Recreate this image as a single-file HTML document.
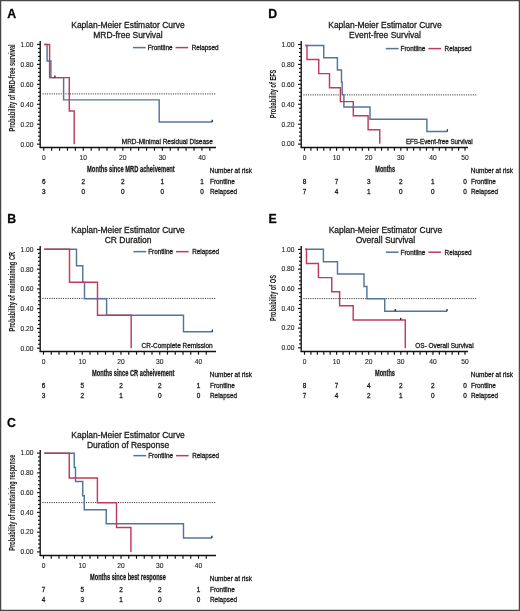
<!DOCTYPE html>
<html><head><meta charset="utf-8"><title>Kaplan-Meier curves</title>
<style>
html,body{margin:0;padding:0;background:#fff;}
body{width:520px;height:611px;overflow:hidden;}
svg{display:block;will-change:transform;}
text{font-family:"Liberation Sans", sans-serif;stroke:#1a1a1a;stroke-width:0.28px;}
text.lt{stroke-width:0.12px;fill:#262626;stroke:#262626;}
</style></head><body>
<svg width="520" height="611" viewBox="0 0 520 611" font-family='"Liberation Sans", sans-serif' fill="#1a1a1a">
<rect x="0" y="0" width="520" height="611" fill="#fff"/>
<text x="7.30" y="17.80" font-size="12.3" text-anchor="start" font-weight="bold" fill="#000">A</text>
<text x="128.00" y="28.10" font-size="8.5" text-anchor="middle" textLength="113.50" lengthAdjust="spacingAndGlyphs">Kaplan-Meier Estimator Curve</text>
<text x="128.00" y="38.10" font-size="8.5" text-anchor="middle">MRD-free Survival</text>
<line x1="132.90" y1="47.6" x2="145.70" y2="47.6" stroke="#52769a" stroke-width="1.5"/>
<text x="147.70" y="49.90" font-size="6.35" text-anchor="start" textLength="24.80" lengthAdjust="spacingAndGlyphs">Frontline</text>
<line x1="175.50" y1="47.6" x2="188.20" y2="47.6" stroke="#c03c5e" stroke-width="1.5"/>
<text x="191.70" y="49.90" font-size="6.35" text-anchor="start" textLength="26.90" lengthAdjust="spacingAndGlyphs">Relapsed</text>
<line x1="40.2" y1="41" x2="40.2" y2="148.0" stroke="#111" stroke-width="1.35"/>
<line x1="37.00" y1="144.15" x2="40.2" y2="144.15" stroke="#111" stroke-width="1.15"/>
<text x="33.50" y="146.50" font-size="6.7" text-anchor="end" class="lt">0.00</text>
<line x1="38.00" y1="140.16" x2="40.2" y2="140.16" stroke="#111" stroke-width="1.15"/>
<line x1="38.00" y1="136.17" x2="40.2" y2="136.17" stroke="#111" stroke-width="1.15"/>
<line x1="38.00" y1="132.19" x2="40.2" y2="132.19" stroke="#111" stroke-width="1.15"/>
<line x1="38.00" y1="128.20" x2="40.2" y2="128.20" stroke="#111" stroke-width="1.15"/>
<line x1="37.00" y1="124.21" x2="40.2" y2="124.21" stroke="#111" stroke-width="1.15"/>
<text x="33.50" y="126.56" font-size="6.7" text-anchor="end" class="lt">0.20</text>
<line x1="38.00" y1="120.22" x2="40.2" y2="120.22" stroke="#111" stroke-width="1.15"/>
<line x1="38.00" y1="116.23" x2="40.2" y2="116.23" stroke="#111" stroke-width="1.15"/>
<line x1="38.00" y1="112.25" x2="40.2" y2="112.25" stroke="#111" stroke-width="1.15"/>
<line x1="38.00" y1="108.26" x2="40.2" y2="108.26" stroke="#111" stroke-width="1.15"/>
<line x1="37.00" y1="104.27" x2="40.2" y2="104.27" stroke="#111" stroke-width="1.15"/>
<text x="33.50" y="106.62" font-size="6.7" text-anchor="end" class="lt">0.40</text>
<line x1="38.00" y1="100.28" x2="40.2" y2="100.28" stroke="#111" stroke-width="1.15"/>
<line x1="38.00" y1="96.29" x2="40.2" y2="96.29" stroke="#111" stroke-width="1.15"/>
<line x1="38.00" y1="92.31" x2="40.2" y2="92.31" stroke="#111" stroke-width="1.15"/>
<line x1="38.00" y1="88.32" x2="40.2" y2="88.32" stroke="#111" stroke-width="1.15"/>
<line x1="37.00" y1="84.33" x2="40.2" y2="84.33" stroke="#111" stroke-width="1.15"/>
<text x="33.50" y="86.68" font-size="6.7" text-anchor="end" class="lt">0.60</text>
<line x1="38.00" y1="80.34" x2="40.2" y2="80.34" stroke="#111" stroke-width="1.15"/>
<line x1="38.00" y1="76.35" x2="40.2" y2="76.35" stroke="#111" stroke-width="1.15"/>
<line x1="38.00" y1="72.37" x2="40.2" y2="72.37" stroke="#111" stroke-width="1.15"/>
<line x1="38.00" y1="68.38" x2="40.2" y2="68.38" stroke="#111" stroke-width="1.15"/>
<line x1="37.00" y1="64.39" x2="40.2" y2="64.39" stroke="#111" stroke-width="1.15"/>
<text x="33.50" y="66.74" font-size="6.7" text-anchor="end" class="lt">0.80</text>
<line x1="38.00" y1="60.40" x2="40.2" y2="60.40" stroke="#111" stroke-width="1.15"/>
<line x1="38.00" y1="56.41" x2="40.2" y2="56.41" stroke="#111" stroke-width="1.15"/>
<line x1="38.00" y1="52.43" x2="40.2" y2="52.43" stroke="#111" stroke-width="1.15"/>
<line x1="38.00" y1="48.44" x2="40.2" y2="48.44" stroke="#111" stroke-width="1.15"/>
<line x1="37.00" y1="44.45" x2="40.2" y2="44.45" stroke="#111" stroke-width="1.15"/>
<text x="33.50" y="46.80" font-size="6.7" text-anchor="end" class="lt">1.00</text>
<line x1="39.7" y1="147.5" x2="216" y2="147.5" stroke="#111" stroke-width="1.35"/>
<line x1="43.75" y1="147.5" x2="43.75" y2="150.7" stroke="#111" stroke-width="1.15"/>
<line x1="51.66" y1="147.5" x2="51.66" y2="150.7" stroke="#111" stroke-width="1.15"/>
<line x1="59.57" y1="147.5" x2="59.57" y2="150.7" stroke="#111" stroke-width="1.15"/>
<line x1="67.47" y1="147.5" x2="67.47" y2="150.7" stroke="#111" stroke-width="1.15"/>
<line x1="75.38" y1="147.5" x2="75.38" y2="150.7" stroke="#111" stroke-width="1.15"/>
<line x1="83.29" y1="147.5" x2="83.29" y2="150.7" stroke="#111" stroke-width="1.15"/>
<line x1="91.20" y1="147.5" x2="91.20" y2="150.7" stroke="#111" stroke-width="1.15"/>
<line x1="99.11" y1="147.5" x2="99.11" y2="150.7" stroke="#111" stroke-width="1.15"/>
<line x1="107.01" y1="147.5" x2="107.01" y2="150.7" stroke="#111" stroke-width="1.15"/>
<line x1="114.92" y1="147.5" x2="114.92" y2="150.7" stroke="#111" stroke-width="1.15"/>
<line x1="122.83" y1="147.5" x2="122.83" y2="150.7" stroke="#111" stroke-width="1.15"/>
<line x1="130.74" y1="147.5" x2="130.74" y2="150.7" stroke="#111" stroke-width="1.15"/>
<line x1="138.65" y1="147.5" x2="138.65" y2="150.7" stroke="#111" stroke-width="1.15"/>
<line x1="146.55" y1="147.5" x2="146.55" y2="150.7" stroke="#111" stroke-width="1.15"/>
<line x1="154.46" y1="147.5" x2="154.46" y2="150.7" stroke="#111" stroke-width="1.15"/>
<line x1="162.37" y1="147.5" x2="162.37" y2="150.7" stroke="#111" stroke-width="1.15"/>
<line x1="170.28" y1="147.5" x2="170.28" y2="150.7" stroke="#111" stroke-width="1.15"/>
<line x1="178.19" y1="147.5" x2="178.19" y2="150.7" stroke="#111" stroke-width="1.15"/>
<line x1="186.09" y1="147.5" x2="186.09" y2="150.7" stroke="#111" stroke-width="1.15"/>
<line x1="194.00" y1="147.5" x2="194.00" y2="150.7" stroke="#111" stroke-width="1.15"/>
<line x1="201.91" y1="147.5" x2="201.91" y2="150.7" stroke="#111" stroke-width="1.15"/>
<line x1="209.82" y1="147.5" x2="209.82" y2="150.7" stroke="#111" stroke-width="1.15"/>
<text x="43.75" y="160.10" font-size="6.7" text-anchor="middle" class="lt">0</text>
<text x="83.29" y="160.10" font-size="6.7" text-anchor="middle" class="lt">10</text>
<text x="122.83" y="160.10" font-size="6.7" text-anchor="middle" class="lt">20</text>
<text x="162.37" y="160.10" font-size="6.7" text-anchor="middle" class="lt">30</text>
<text x="201.91" y="160.10" font-size="6.7" text-anchor="middle" class="lt">40</text>
<line x1="42.4" y1="93.90" x2="216" y2="93.90" stroke="#333" stroke-width="1" stroke-dasharray="1.1,1.19"/>
<path d="M44.25,44.40 H47.1 V61.07 H50.9 V77.63 H63.6 V99.89 H159.2 V122.04 H212.2" fill="none" stroke="#52769a" stroke-width="1.45"/>
<path d="M44.25,44.40 H49.6 V77.63 H69.3 V110.97 H74.2 V144.20" fill="none" stroke="#c03c5e" stroke-width="1.45"/>
<line x1="212.20" y1="119.84" x2="212.20" y2="122.04" stroke="#1e2a3a" stroke-width="1.3"/>
<line x1="54.90" y1="75.43" x2="54.90" y2="77.63" stroke="#4a1428" stroke-width="1.3"/>
<text x="121.80" y="143.70" font-size="6.35" text-anchor="start" textLength="91.05" lengthAdjust="spacingAndGlyphs">MRD-Minimal Residual Disease</text>
<text transform="translate(14.70,87.95) rotate(-90)" x="0" y="0" font-size="8.7" text-anchor="middle" font-weight="bold" style="stroke-width:0.05px" textLength="87.30" lengthAdjust="spacingAndGlyphs">Probability of MRD-free survival</text>
<text x="87.10" y="172.40" font-size="8.7" text-anchor="start" font-weight="bold" textLength="87.65" lengthAdjust="spacingAndGlyphs">Months since MRD acheivement</text>
<text x="209.80" y="173.10" font-size="6.4" text-anchor="start" textLength="42.10" lengthAdjust="spacingAndGlyphs">Number at risk</text>
<text x="43.75" y="184.00" font-size="6.4" text-anchor="middle">6</text>
<text x="43.75" y="194.30" font-size="6.4" text-anchor="middle">3</text>
<text x="83.29" y="184.00" font-size="6.4" text-anchor="middle">2</text>
<text x="83.29" y="194.30" font-size="6.4" text-anchor="middle">0</text>
<text x="122.83" y="184.00" font-size="6.4" text-anchor="middle">2</text>
<text x="122.83" y="194.30" font-size="6.4" text-anchor="middle">0</text>
<text x="162.37" y="184.00" font-size="6.4" text-anchor="middle">1</text>
<text x="162.37" y="194.30" font-size="6.4" text-anchor="middle">0</text>
<text x="201.91" y="184.00" font-size="6.4" text-anchor="middle">1</text>
<text x="201.91" y="194.30" font-size="6.4" text-anchor="middle">0</text>
<text x="210.00" y="184.00" font-size="6.4" text-anchor="start">Frontline</text>
<text x="210.00" y="194.30" font-size="6.4" text-anchor="start">Relapsed</text>
<text x="7.30" y="222.90" font-size="12.3" text-anchor="start" font-weight="bold" fill="#000">B</text>
<text x="128.10" y="233.10" font-size="8.5" text-anchor="middle" textLength="113.50" lengthAdjust="spacingAndGlyphs">Kaplan-Meier Estimator Curve</text>
<text x="128.10" y="243.10" font-size="8.5" text-anchor="middle">CR Duration</text>
<line x1="133.40" y1="251.65" x2="146.20" y2="251.65" stroke="#52769a" stroke-width="1.5"/>
<text x="148.20" y="253.95" font-size="6.35" text-anchor="start" textLength="24.80" lengthAdjust="spacingAndGlyphs">Frontline</text>
<line x1="176.00" y1="251.65" x2="188.70" y2="251.65" stroke="#c03c5e" stroke-width="1.5"/>
<text x="192.20" y="253.95" font-size="6.35" text-anchor="start" textLength="26.90" lengthAdjust="spacingAndGlyphs">Relapsed</text>
<line x1="40.2" y1="246" x2="40.2" y2="352.0" stroke="#111" stroke-width="1.35"/>
<line x1="37.00" y1="348.20" x2="40.2" y2="348.20" stroke="#111" stroke-width="1.15"/>
<text x="33.50" y="350.55" font-size="6.7" text-anchor="end" class="lt">0.00</text>
<line x1="38.00" y1="344.25" x2="40.2" y2="344.25" stroke="#111" stroke-width="1.15"/>
<line x1="38.00" y1="340.30" x2="40.2" y2="340.30" stroke="#111" stroke-width="1.15"/>
<line x1="38.00" y1="336.34" x2="40.2" y2="336.34" stroke="#111" stroke-width="1.15"/>
<line x1="38.00" y1="332.39" x2="40.2" y2="332.39" stroke="#111" stroke-width="1.15"/>
<line x1="37.00" y1="328.44" x2="40.2" y2="328.44" stroke="#111" stroke-width="1.15"/>
<text x="33.50" y="330.79" font-size="6.7" text-anchor="end" class="lt">0.20</text>
<line x1="38.00" y1="324.49" x2="40.2" y2="324.49" stroke="#111" stroke-width="1.15"/>
<line x1="38.00" y1="320.54" x2="40.2" y2="320.54" stroke="#111" stroke-width="1.15"/>
<line x1="38.00" y1="316.58" x2="40.2" y2="316.58" stroke="#111" stroke-width="1.15"/>
<line x1="38.00" y1="312.63" x2="40.2" y2="312.63" stroke="#111" stroke-width="1.15"/>
<line x1="37.00" y1="308.68" x2="40.2" y2="308.68" stroke="#111" stroke-width="1.15"/>
<text x="33.50" y="311.03" font-size="6.7" text-anchor="end" class="lt">0.40</text>
<line x1="38.00" y1="304.73" x2="40.2" y2="304.73" stroke="#111" stroke-width="1.15"/>
<line x1="38.00" y1="300.78" x2="40.2" y2="300.78" stroke="#111" stroke-width="1.15"/>
<line x1="38.00" y1="296.82" x2="40.2" y2="296.82" stroke="#111" stroke-width="1.15"/>
<line x1="38.00" y1="292.87" x2="40.2" y2="292.87" stroke="#111" stroke-width="1.15"/>
<line x1="37.00" y1="288.92" x2="40.2" y2="288.92" stroke="#111" stroke-width="1.15"/>
<text x="33.50" y="291.27" font-size="6.7" text-anchor="end" class="lt">0.60</text>
<line x1="38.00" y1="284.97" x2="40.2" y2="284.97" stroke="#111" stroke-width="1.15"/>
<line x1="38.00" y1="281.02" x2="40.2" y2="281.02" stroke="#111" stroke-width="1.15"/>
<line x1="38.00" y1="277.06" x2="40.2" y2="277.06" stroke="#111" stroke-width="1.15"/>
<line x1="38.00" y1="273.11" x2="40.2" y2="273.11" stroke="#111" stroke-width="1.15"/>
<line x1="37.00" y1="269.16" x2="40.2" y2="269.16" stroke="#111" stroke-width="1.15"/>
<text x="33.50" y="271.51" font-size="6.7" text-anchor="end" class="lt">0.80</text>
<line x1="38.00" y1="265.21" x2="40.2" y2="265.21" stroke="#111" stroke-width="1.15"/>
<line x1="38.00" y1="261.26" x2="40.2" y2="261.26" stroke="#111" stroke-width="1.15"/>
<line x1="38.00" y1="257.30" x2="40.2" y2="257.30" stroke="#111" stroke-width="1.15"/>
<line x1="38.00" y1="253.35" x2="40.2" y2="253.35" stroke="#111" stroke-width="1.15"/>
<line x1="37.00" y1="249.40" x2="40.2" y2="249.40" stroke="#111" stroke-width="1.15"/>
<text x="33.50" y="251.75" font-size="6.7" text-anchor="end" class="lt">1.00</text>
<line x1="39.7" y1="351.5" x2="216" y2="351.5" stroke="#111" stroke-width="1.35"/>
<line x1="43.50" y1="351.5" x2="43.50" y2="354.7" stroke="#111" stroke-width="1.15"/>
<line x1="51.25" y1="351.5" x2="51.25" y2="354.7" stroke="#111" stroke-width="1.15"/>
<line x1="59.00" y1="351.5" x2="59.00" y2="354.7" stroke="#111" stroke-width="1.15"/>
<line x1="66.75" y1="351.5" x2="66.75" y2="354.7" stroke="#111" stroke-width="1.15"/>
<line x1="74.50" y1="351.5" x2="74.50" y2="354.7" stroke="#111" stroke-width="1.15"/>
<line x1="82.25" y1="351.5" x2="82.25" y2="354.7" stroke="#111" stroke-width="1.15"/>
<line x1="90.00" y1="351.5" x2="90.00" y2="354.7" stroke="#111" stroke-width="1.15"/>
<line x1="97.75" y1="351.5" x2="97.75" y2="354.7" stroke="#111" stroke-width="1.15"/>
<line x1="105.50" y1="351.5" x2="105.50" y2="354.7" stroke="#111" stroke-width="1.15"/>
<line x1="113.25" y1="351.5" x2="113.25" y2="354.7" stroke="#111" stroke-width="1.15"/>
<line x1="121.00" y1="351.5" x2="121.00" y2="354.7" stroke="#111" stroke-width="1.15"/>
<line x1="128.75" y1="351.5" x2="128.75" y2="354.7" stroke="#111" stroke-width="1.15"/>
<line x1="136.50" y1="351.5" x2="136.50" y2="354.7" stroke="#111" stroke-width="1.15"/>
<line x1="144.25" y1="351.5" x2="144.25" y2="354.7" stroke="#111" stroke-width="1.15"/>
<line x1="152.00" y1="351.5" x2="152.00" y2="354.7" stroke="#111" stroke-width="1.15"/>
<line x1="159.75" y1="351.5" x2="159.75" y2="354.7" stroke="#111" stroke-width="1.15"/>
<line x1="167.50" y1="351.5" x2="167.50" y2="354.7" stroke="#111" stroke-width="1.15"/>
<line x1="175.25" y1="351.5" x2="175.25" y2="354.7" stroke="#111" stroke-width="1.15"/>
<line x1="183.00" y1="351.5" x2="183.00" y2="354.7" stroke="#111" stroke-width="1.15"/>
<line x1="190.75" y1="351.5" x2="190.75" y2="354.7" stroke="#111" stroke-width="1.15"/>
<line x1="198.50" y1="351.5" x2="198.50" y2="354.7" stroke="#111" stroke-width="1.15"/>
<line x1="206.25" y1="351.5" x2="206.25" y2="354.7" stroke="#111" stroke-width="1.15"/>
<text x="43.50" y="364.10" font-size="6.7" text-anchor="middle" class="lt">0</text>
<text x="82.25" y="364.10" font-size="6.7" text-anchor="middle" class="lt">10</text>
<text x="121.00" y="364.10" font-size="6.7" text-anchor="middle" class="lt">20</text>
<text x="159.75" y="364.10" font-size="6.7" text-anchor="middle" class="lt">30</text>
<text x="198.50" y="364.10" font-size="6.7" text-anchor="middle" class="lt">40</text>
<line x1="42.4" y1="298.40" x2="216" y2="298.40" stroke="#333" stroke-width="1" stroke-dasharray="1.1,1.19"/>
<path d="M44.25,249.30 H76.5 V265.83 H82.75 V282.27 H84.5 V298.80 H106.6 V315.33 H183.5 V331.77 H212.4" fill="none" stroke="#52769a" stroke-width="1.45"/>
<path d="M44.25,249.30 H69.5 V282.27 H97.5 V315.33 H131.2 V348.30" fill="none" stroke="#c03c5e" stroke-width="1.45"/>
<line x1="212.40" y1="329.57" x2="212.40" y2="331.77" stroke="#1e2a3a" stroke-width="1.3"/>
<text x="141.60" y="347.70" font-size="6.35" text-anchor="start" textLength="71.10" lengthAdjust="spacingAndGlyphs">CR-Complete Remission</text>
<text transform="translate(14.70,291.70) rotate(-90)" x="0" y="0" font-size="8.7" text-anchor="middle" font-weight="bold" style="stroke-width:0.05px" textLength="79.60" lengthAdjust="spacingAndGlyphs">Probability of maintaining CR</text>
<text x="92.00" y="376.40" font-size="8.7" text-anchor="start" font-weight="bold" textLength="82.30" lengthAdjust="spacingAndGlyphs">Months since CR acheivement</text>
<text x="209.80" y="377.10" font-size="6.4" text-anchor="start" textLength="42.10" lengthAdjust="spacingAndGlyphs">Number at risk</text>
<text x="43.50" y="388.00" font-size="6.4" text-anchor="middle">6</text>
<text x="43.50" y="398.30" font-size="6.4" text-anchor="middle">3</text>
<text x="82.25" y="388.00" font-size="6.4" text-anchor="middle">5</text>
<text x="82.25" y="398.30" font-size="6.4" text-anchor="middle">2</text>
<text x="121.00" y="388.00" font-size="6.4" text-anchor="middle">2</text>
<text x="121.00" y="398.30" font-size="6.4" text-anchor="middle">1</text>
<text x="159.75" y="388.00" font-size="6.4" text-anchor="middle">2</text>
<text x="159.75" y="398.30" font-size="6.4" text-anchor="middle">0</text>
<text x="198.50" y="388.00" font-size="6.4" text-anchor="middle">1</text>
<text x="198.50" y="398.30" font-size="6.4" text-anchor="middle">0</text>
<text x="210.00" y="388.00" font-size="6.4" text-anchor="start">Frontline</text>
<text x="210.00" y="398.30" font-size="6.4" text-anchor="start">Relapsed</text>
<text x="7.00" y="426.80" font-size="12.3" text-anchor="start" font-weight="bold" fill="#000">C</text>
<text x="128.10" y="437.50" font-size="8.5" text-anchor="middle" textLength="113.50" lengthAdjust="spacingAndGlyphs">Kaplan-Meier Estimator Curve</text>
<text x="128.10" y="447.50" font-size="8.5" text-anchor="middle">Duration of Response</text>
<line x1="133.40" y1="455.65" x2="146.20" y2="455.65" stroke="#52769a" stroke-width="1.5"/>
<text x="148.20" y="457.95" font-size="6.35" text-anchor="start" textLength="24.80" lengthAdjust="spacingAndGlyphs">Frontline</text>
<line x1="176.00" y1="455.65" x2="188.70" y2="455.65" stroke="#c03c5e" stroke-width="1.5"/>
<text x="192.20" y="457.95" font-size="6.35" text-anchor="start" textLength="26.90" lengthAdjust="spacingAndGlyphs">Relapsed</text>
<line x1="40.2" y1="450" x2="40.2" y2="556.0" stroke="#111" stroke-width="1.35"/>
<line x1="37.00" y1="551.90" x2="40.2" y2="551.90" stroke="#111" stroke-width="1.15"/>
<text x="33.50" y="554.25" font-size="6.7" text-anchor="end" class="lt">0.00</text>
<line x1="38.00" y1="547.95" x2="40.2" y2="547.95" stroke="#111" stroke-width="1.15"/>
<line x1="38.00" y1="544.00" x2="40.2" y2="544.00" stroke="#111" stroke-width="1.15"/>
<line x1="38.00" y1="540.04" x2="40.2" y2="540.04" stroke="#111" stroke-width="1.15"/>
<line x1="38.00" y1="536.09" x2="40.2" y2="536.09" stroke="#111" stroke-width="1.15"/>
<line x1="37.00" y1="532.14" x2="40.2" y2="532.14" stroke="#111" stroke-width="1.15"/>
<text x="33.50" y="534.49" font-size="6.7" text-anchor="end" class="lt">0.20</text>
<line x1="38.00" y1="528.19" x2="40.2" y2="528.19" stroke="#111" stroke-width="1.15"/>
<line x1="38.00" y1="524.24" x2="40.2" y2="524.24" stroke="#111" stroke-width="1.15"/>
<line x1="38.00" y1="520.28" x2="40.2" y2="520.28" stroke="#111" stroke-width="1.15"/>
<line x1="38.00" y1="516.33" x2="40.2" y2="516.33" stroke="#111" stroke-width="1.15"/>
<line x1="37.00" y1="512.38" x2="40.2" y2="512.38" stroke="#111" stroke-width="1.15"/>
<text x="33.50" y="514.73" font-size="6.7" text-anchor="end" class="lt">0.40</text>
<line x1="38.00" y1="508.43" x2="40.2" y2="508.43" stroke="#111" stroke-width="1.15"/>
<line x1="38.00" y1="504.48" x2="40.2" y2="504.48" stroke="#111" stroke-width="1.15"/>
<line x1="38.00" y1="500.52" x2="40.2" y2="500.52" stroke="#111" stroke-width="1.15"/>
<line x1="38.00" y1="496.57" x2="40.2" y2="496.57" stroke="#111" stroke-width="1.15"/>
<line x1="37.00" y1="492.62" x2="40.2" y2="492.62" stroke="#111" stroke-width="1.15"/>
<text x="33.50" y="494.97" font-size="6.7" text-anchor="end" class="lt">0.60</text>
<line x1="38.00" y1="488.67" x2="40.2" y2="488.67" stroke="#111" stroke-width="1.15"/>
<line x1="38.00" y1="484.72" x2="40.2" y2="484.72" stroke="#111" stroke-width="1.15"/>
<line x1="38.00" y1="480.76" x2="40.2" y2="480.76" stroke="#111" stroke-width="1.15"/>
<line x1="38.00" y1="476.81" x2="40.2" y2="476.81" stroke="#111" stroke-width="1.15"/>
<line x1="37.00" y1="472.86" x2="40.2" y2="472.86" stroke="#111" stroke-width="1.15"/>
<text x="33.50" y="475.21" font-size="6.7" text-anchor="end" class="lt">0.80</text>
<line x1="38.00" y1="468.91" x2="40.2" y2="468.91" stroke="#111" stroke-width="1.15"/>
<line x1="38.00" y1="464.96" x2="40.2" y2="464.96" stroke="#111" stroke-width="1.15"/>
<line x1="38.00" y1="461.00" x2="40.2" y2="461.00" stroke="#111" stroke-width="1.15"/>
<line x1="38.00" y1="457.05" x2="40.2" y2="457.05" stroke="#111" stroke-width="1.15"/>
<line x1="37.00" y1="453.10" x2="40.2" y2="453.10" stroke="#111" stroke-width="1.15"/>
<text x="33.50" y="455.45" font-size="6.7" text-anchor="end" class="lt">1.00</text>
<line x1="39.7" y1="555.5" x2="216" y2="555.5" stroke="#111" stroke-width="1.35"/>
<line x1="43.50" y1="555.5" x2="43.50" y2="558.7" stroke="#111" stroke-width="1.15"/>
<line x1="51.25" y1="555.5" x2="51.25" y2="558.7" stroke="#111" stroke-width="1.15"/>
<line x1="59.00" y1="555.5" x2="59.00" y2="558.7" stroke="#111" stroke-width="1.15"/>
<line x1="66.75" y1="555.5" x2="66.75" y2="558.7" stroke="#111" stroke-width="1.15"/>
<line x1="74.50" y1="555.5" x2="74.50" y2="558.7" stroke="#111" stroke-width="1.15"/>
<line x1="82.25" y1="555.5" x2="82.25" y2="558.7" stroke="#111" stroke-width="1.15"/>
<line x1="90.00" y1="555.5" x2="90.00" y2="558.7" stroke="#111" stroke-width="1.15"/>
<line x1="97.75" y1="555.5" x2="97.75" y2="558.7" stroke="#111" stroke-width="1.15"/>
<line x1="105.50" y1="555.5" x2="105.50" y2="558.7" stroke="#111" stroke-width="1.15"/>
<line x1="113.25" y1="555.5" x2="113.25" y2="558.7" stroke="#111" stroke-width="1.15"/>
<line x1="121.00" y1="555.5" x2="121.00" y2="558.7" stroke="#111" stroke-width="1.15"/>
<line x1="128.75" y1="555.5" x2="128.75" y2="558.7" stroke="#111" stroke-width="1.15"/>
<line x1="136.50" y1="555.5" x2="136.50" y2="558.7" stroke="#111" stroke-width="1.15"/>
<line x1="144.25" y1="555.5" x2="144.25" y2="558.7" stroke="#111" stroke-width="1.15"/>
<line x1="152.00" y1="555.5" x2="152.00" y2="558.7" stroke="#111" stroke-width="1.15"/>
<line x1="159.75" y1="555.5" x2="159.75" y2="558.7" stroke="#111" stroke-width="1.15"/>
<line x1="167.50" y1="555.5" x2="167.50" y2="558.7" stroke="#111" stroke-width="1.15"/>
<line x1="175.25" y1="555.5" x2="175.25" y2="558.7" stroke="#111" stroke-width="1.15"/>
<line x1="183.00" y1="555.5" x2="183.00" y2="558.7" stroke="#111" stroke-width="1.15"/>
<line x1="190.75" y1="555.5" x2="190.75" y2="558.7" stroke="#111" stroke-width="1.15"/>
<line x1="198.50" y1="555.5" x2="198.50" y2="558.7" stroke="#111" stroke-width="1.15"/>
<line x1="206.25" y1="555.5" x2="206.25" y2="558.7" stroke="#111" stroke-width="1.15"/>
<text x="43.50" y="568.10" font-size="6.7" text-anchor="middle" class="lt">0</text>
<text x="82.25" y="568.10" font-size="6.7" text-anchor="middle" class="lt">10</text>
<text x="121.00" y="568.10" font-size="6.7" text-anchor="middle" class="lt">20</text>
<text x="159.75" y="568.10" font-size="6.7" text-anchor="middle" class="lt">30</text>
<text x="198.50" y="568.10" font-size="6.7" text-anchor="middle" class="lt">40</text>
<line x1="42.4" y1="502.60" x2="216" y2="502.60" stroke="#333" stroke-width="1" stroke-dasharray="1.1,1.19"/>
<path d="M44.25,453.30 H74.25 V467.43 H75.5 V481.56 H82.75 V495.69 H84.25 V509.71 H106.25 V523.84 H183.5 V537.97 H211.9" fill="none" stroke="#52769a" stroke-width="1.45"/>
<path d="M44.25,453.30 H69.25 V478.00 H97.4 V502.70 H116.5 V527.40 H130.9 V552.10" fill="none" stroke="#c03c5e" stroke-width="1.45"/>
<line x1="211.90" y1="535.77" x2="211.90" y2="537.97" stroke="#1e2a3a" stroke-width="1.3"/>
<text transform="translate(14.70,502.70) rotate(-90)" x="0" y="0" font-size="8.7" text-anchor="middle" font-weight="bold" style="stroke-width:0.05px" textLength="96.00" lengthAdjust="spacingAndGlyphs">Probability of maintaining response</text>
<text x="90.00" y="580.40" font-size="8.7" text-anchor="start" font-weight="bold" textLength="75.90" lengthAdjust="spacingAndGlyphs">Months since best response</text>
<text x="209.80" y="581.10" font-size="6.4" text-anchor="start" textLength="42.10" lengthAdjust="spacingAndGlyphs">Number at risk</text>
<text x="43.50" y="592.00" font-size="6.4" text-anchor="middle">7</text>
<text x="43.50" y="602.30" font-size="6.4" text-anchor="middle">4</text>
<text x="82.25" y="592.00" font-size="6.4" text-anchor="middle">5</text>
<text x="82.25" y="602.30" font-size="6.4" text-anchor="middle">3</text>
<text x="121.00" y="592.00" font-size="6.4" text-anchor="middle">2</text>
<text x="121.00" y="602.30" font-size="6.4" text-anchor="middle">1</text>
<text x="159.75" y="592.00" font-size="6.4" text-anchor="middle">2</text>
<text x="159.75" y="602.30" font-size="6.4" text-anchor="middle">0</text>
<text x="198.50" y="592.00" font-size="6.4" text-anchor="middle">1</text>
<text x="198.50" y="602.30" font-size="6.4" text-anchor="middle">0</text>
<text x="210.00" y="592.00" font-size="6.4" text-anchor="start">Frontline</text>
<text x="210.00" y="602.30" font-size="6.4" text-anchor="start">Relapsed</text>
<text x="268.30" y="17.80" font-size="12.3" text-anchor="start" font-weight="bold" fill="#000">D</text>
<text x="385.00" y="28.10" font-size="8.5" text-anchor="middle" textLength="113.50" lengthAdjust="spacingAndGlyphs">Kaplan-Meier Estimator Curve</text>
<text x="385.00" y="38.10" font-size="8.5" text-anchor="middle">Event-free Survival</text>
<line x1="385.80" y1="48.6" x2="398.60" y2="48.6" stroke="#52769a" stroke-width="1.5"/>
<text x="400.60" y="50.90" font-size="6.35" text-anchor="start" textLength="24.80" lengthAdjust="spacingAndGlyphs">Frontline</text>
<line x1="428.40" y1="48.6" x2="441.10" y2="48.6" stroke="#c03c5e" stroke-width="1.5"/>
<text x="444.60" y="50.90" font-size="6.35" text-anchor="start" textLength="26.90" lengthAdjust="spacingAndGlyphs">Relapsed</text>
<line x1="301.2" y1="41" x2="301.2" y2="148.0" stroke="#111" stroke-width="1.35"/>
<line x1="298.00" y1="144.10" x2="301.2" y2="144.10" stroke="#111" stroke-width="1.15"/>
<text x="294.50" y="146.45" font-size="6.7" text-anchor="end" class="lt">0.00</text>
<line x1="299.00" y1="140.12" x2="301.2" y2="140.12" stroke="#111" stroke-width="1.15"/>
<line x1="299.00" y1="136.13" x2="301.2" y2="136.13" stroke="#111" stroke-width="1.15"/>
<line x1="299.00" y1="132.15" x2="301.2" y2="132.15" stroke="#111" stroke-width="1.15"/>
<line x1="299.00" y1="128.16" x2="301.2" y2="128.16" stroke="#111" stroke-width="1.15"/>
<line x1="298.00" y1="124.18" x2="301.2" y2="124.18" stroke="#111" stroke-width="1.15"/>
<text x="294.50" y="126.53" font-size="6.7" text-anchor="end" class="lt">0.20</text>
<line x1="299.00" y1="120.20" x2="301.2" y2="120.20" stroke="#111" stroke-width="1.15"/>
<line x1="299.00" y1="116.21" x2="301.2" y2="116.21" stroke="#111" stroke-width="1.15"/>
<line x1="299.00" y1="112.23" x2="301.2" y2="112.23" stroke="#111" stroke-width="1.15"/>
<line x1="299.00" y1="108.24" x2="301.2" y2="108.24" stroke="#111" stroke-width="1.15"/>
<line x1="298.00" y1="104.26" x2="301.2" y2="104.26" stroke="#111" stroke-width="1.15"/>
<text x="294.50" y="106.61" font-size="6.7" text-anchor="end" class="lt">0.40</text>
<line x1="299.00" y1="100.28" x2="301.2" y2="100.28" stroke="#111" stroke-width="1.15"/>
<line x1="299.00" y1="96.29" x2="301.2" y2="96.29" stroke="#111" stroke-width="1.15"/>
<line x1="299.00" y1="92.31" x2="301.2" y2="92.31" stroke="#111" stroke-width="1.15"/>
<line x1="299.00" y1="88.32" x2="301.2" y2="88.32" stroke="#111" stroke-width="1.15"/>
<line x1="298.00" y1="84.34" x2="301.2" y2="84.34" stroke="#111" stroke-width="1.15"/>
<text x="294.50" y="86.69" font-size="6.7" text-anchor="end" class="lt">0.60</text>
<line x1="299.00" y1="80.36" x2="301.2" y2="80.36" stroke="#111" stroke-width="1.15"/>
<line x1="299.00" y1="76.37" x2="301.2" y2="76.37" stroke="#111" stroke-width="1.15"/>
<line x1="299.00" y1="72.39" x2="301.2" y2="72.39" stroke="#111" stroke-width="1.15"/>
<line x1="299.00" y1="68.40" x2="301.2" y2="68.40" stroke="#111" stroke-width="1.15"/>
<line x1="298.00" y1="64.42" x2="301.2" y2="64.42" stroke="#111" stroke-width="1.15"/>
<text x="294.50" y="66.77" font-size="6.7" text-anchor="end" class="lt">0.80</text>
<line x1="299.00" y1="60.44" x2="301.2" y2="60.44" stroke="#111" stroke-width="1.15"/>
<line x1="299.00" y1="56.45" x2="301.2" y2="56.45" stroke="#111" stroke-width="1.15"/>
<line x1="299.00" y1="52.47" x2="301.2" y2="52.47" stroke="#111" stroke-width="1.15"/>
<line x1="299.00" y1="48.48" x2="301.2" y2="48.48" stroke="#111" stroke-width="1.15"/>
<line x1="298.00" y1="44.50" x2="301.2" y2="44.50" stroke="#111" stroke-width="1.15"/>
<text x="294.50" y="46.85" font-size="6.7" text-anchor="end" class="lt">1.00</text>
<line x1="300.7" y1="147.5" x2="468" y2="147.5" stroke="#111" stroke-width="1.35"/>
<line x1="304.50" y1="147.5" x2="304.50" y2="150.7" stroke="#111" stroke-width="1.15"/>
<line x1="310.92" y1="147.5" x2="310.92" y2="150.7" stroke="#111" stroke-width="1.15"/>
<line x1="317.34" y1="147.5" x2="317.34" y2="150.7" stroke="#111" stroke-width="1.15"/>
<line x1="323.76" y1="147.5" x2="323.76" y2="150.7" stroke="#111" stroke-width="1.15"/>
<line x1="330.18" y1="147.5" x2="330.18" y2="150.7" stroke="#111" stroke-width="1.15"/>
<line x1="336.60" y1="147.5" x2="336.60" y2="150.7" stroke="#111" stroke-width="1.15"/>
<line x1="343.02" y1="147.5" x2="343.02" y2="150.7" stroke="#111" stroke-width="1.15"/>
<line x1="349.44" y1="147.5" x2="349.44" y2="150.7" stroke="#111" stroke-width="1.15"/>
<line x1="355.86" y1="147.5" x2="355.86" y2="150.7" stroke="#111" stroke-width="1.15"/>
<line x1="362.28" y1="147.5" x2="362.28" y2="150.7" stroke="#111" stroke-width="1.15"/>
<line x1="368.70" y1="147.5" x2="368.70" y2="150.7" stroke="#111" stroke-width="1.15"/>
<line x1="375.12" y1="147.5" x2="375.12" y2="150.7" stroke="#111" stroke-width="1.15"/>
<line x1="381.54" y1="147.5" x2="381.54" y2="150.7" stroke="#111" stroke-width="1.15"/>
<line x1="387.96" y1="147.5" x2="387.96" y2="150.7" stroke="#111" stroke-width="1.15"/>
<line x1="394.38" y1="147.5" x2="394.38" y2="150.7" stroke="#111" stroke-width="1.15"/>
<line x1="400.80" y1="147.5" x2="400.80" y2="150.7" stroke="#111" stroke-width="1.15"/>
<line x1="407.22" y1="147.5" x2="407.22" y2="150.7" stroke="#111" stroke-width="1.15"/>
<line x1="413.64" y1="147.5" x2="413.64" y2="150.7" stroke="#111" stroke-width="1.15"/>
<line x1="420.06" y1="147.5" x2="420.06" y2="150.7" stroke="#111" stroke-width="1.15"/>
<line x1="426.48" y1="147.5" x2="426.48" y2="150.7" stroke="#111" stroke-width="1.15"/>
<line x1="432.90" y1="147.5" x2="432.90" y2="150.7" stroke="#111" stroke-width="1.15"/>
<line x1="439.32" y1="147.5" x2="439.32" y2="150.7" stroke="#111" stroke-width="1.15"/>
<line x1="445.74" y1="147.5" x2="445.74" y2="150.7" stroke="#111" stroke-width="1.15"/>
<line x1="452.16" y1="147.5" x2="452.16" y2="150.7" stroke="#111" stroke-width="1.15"/>
<line x1="458.58" y1="147.5" x2="458.58" y2="150.7" stroke="#111" stroke-width="1.15"/>
<line x1="465.00" y1="147.5" x2="465.00" y2="150.7" stroke="#111" stroke-width="1.15"/>
<text x="304.50" y="160.10" font-size="6.7" text-anchor="middle" class="lt">0</text>
<text x="336.60" y="160.10" font-size="6.7" text-anchor="middle" class="lt">10</text>
<text x="368.70" y="160.10" font-size="6.7" text-anchor="middle" class="lt">20</text>
<text x="400.80" y="160.10" font-size="6.7" text-anchor="middle" class="lt">30</text>
<text x="432.90" y="160.10" font-size="6.7" text-anchor="middle" class="lt">40</text>
<text x="465.00" y="160.10" font-size="6.7" text-anchor="middle" class="lt">50</text>
<line x1="303.4" y1="94.90" x2="477" y2="94.90" stroke="#333" stroke-width="1" stroke-dasharray="1.1,1.19"/>
<path d="M305.25,45.50 H323.75 V57.78 H337.4 V70.06 H341.5 V82.34 H342.2 V94.62 H343.9 V106.91 H370 V119.19 H426.9 V131.47 H447.4" fill="none" stroke="#52769a" stroke-width="1.45"/>
<path d="M305.25,45.50 H307.0 V59.55 H318.75 V73.60 H329.5 V87.65 H340.4 V101.60 H353.3 V115.65 H368.1 V129.70 H379.75 V143.75" fill="none" stroke="#c03c5e" stroke-width="1.45"/>
<line x1="447.40" y1="129.27" x2="447.40" y2="131.47" stroke="#1e2a3a" stroke-width="1.3"/>
<text x="405.90" y="143.70" font-size="6.35" text-anchor="start" textLength="66.70" lengthAdjust="spacingAndGlyphs">EFS-Event-free Survival</text>
<text transform="translate(275.70,93.95) rotate(-90)" x="0" y="0" font-size="8.7" text-anchor="middle" font-weight="bold" style="stroke-width:0.05px" textLength="48.70" lengthAdjust="spacingAndGlyphs">Probability of EFS</text>
<text x="375.25" y="172.40" font-size="8.7" text-anchor="start" font-weight="bold" textLength="19.75" lengthAdjust="spacingAndGlyphs">Months</text>
<text x="470.80" y="173.10" font-size="6.4" text-anchor="start" textLength="42.10" lengthAdjust="spacingAndGlyphs">Number at risk</text>
<text x="304.50" y="184.00" font-size="6.4" text-anchor="middle">8</text>
<text x="304.50" y="194.30" font-size="6.4" text-anchor="middle">7</text>
<text x="336.60" y="184.00" font-size="6.4" text-anchor="middle">7</text>
<text x="336.60" y="194.30" font-size="6.4" text-anchor="middle">4</text>
<text x="368.70" y="184.00" font-size="6.4" text-anchor="middle">3</text>
<text x="368.70" y="194.30" font-size="6.4" text-anchor="middle">1</text>
<text x="400.80" y="184.00" font-size="6.4" text-anchor="middle">2</text>
<text x="400.80" y="194.30" font-size="6.4" text-anchor="middle">0</text>
<text x="432.90" y="184.00" font-size="6.4" text-anchor="middle">1</text>
<text x="432.90" y="194.30" font-size="6.4" text-anchor="middle">0</text>
<text x="465.00" y="184.00" font-size="6.4" text-anchor="middle">0</text>
<text x="465.00" y="194.30" font-size="6.4" text-anchor="middle">0</text>
<text x="471.00" y="184.00" font-size="6.4" text-anchor="start">Frontline</text>
<text x="471.00" y="194.30" font-size="6.4" text-anchor="start">Relapsed</text>
<text x="268.60" y="222.90" font-size="12.3" text-anchor="start" font-weight="bold" fill="#000">E</text>
<text x="385.40" y="233.00" font-size="8.5" text-anchor="middle" textLength="113.50" lengthAdjust="spacingAndGlyphs">Kaplan-Meier Estimator Curve</text>
<text x="385.40" y="243.00" font-size="8.5" text-anchor="middle">Overall Survival</text>
<line x1="385.80" y1="252.2" x2="398.60" y2="252.2" stroke="#52769a" stroke-width="1.5"/>
<text x="400.60" y="254.50" font-size="6.35" text-anchor="start" textLength="24.80" lengthAdjust="spacingAndGlyphs">Frontline</text>
<line x1="428.40" y1="252.2" x2="441.10" y2="252.2" stroke="#c03c5e" stroke-width="1.5"/>
<text x="444.60" y="254.50" font-size="6.35" text-anchor="start" textLength="26.90" lengthAdjust="spacingAndGlyphs">Relapsed</text>
<line x1="301.2" y1="246" x2="301.2" y2="352.0" stroke="#111" stroke-width="1.35"/>
<line x1="298.00" y1="347.80" x2="301.2" y2="347.80" stroke="#111" stroke-width="1.15"/>
<text x="294.50" y="350.15" font-size="6.7" text-anchor="end" class="lt">0.00</text>
<line x1="299.00" y1="343.86" x2="301.2" y2="343.86" stroke="#111" stroke-width="1.15"/>
<line x1="299.00" y1="339.93" x2="301.2" y2="339.93" stroke="#111" stroke-width="1.15"/>
<line x1="299.00" y1="335.99" x2="301.2" y2="335.99" stroke="#111" stroke-width="1.15"/>
<line x1="299.00" y1="332.06" x2="301.2" y2="332.06" stroke="#111" stroke-width="1.15"/>
<line x1="298.00" y1="328.12" x2="301.2" y2="328.12" stroke="#111" stroke-width="1.15"/>
<text x="294.50" y="330.47" font-size="6.7" text-anchor="end" class="lt">0.20</text>
<line x1="299.00" y1="324.18" x2="301.2" y2="324.18" stroke="#111" stroke-width="1.15"/>
<line x1="299.00" y1="320.25" x2="301.2" y2="320.25" stroke="#111" stroke-width="1.15"/>
<line x1="299.00" y1="316.31" x2="301.2" y2="316.31" stroke="#111" stroke-width="1.15"/>
<line x1="299.00" y1="312.38" x2="301.2" y2="312.38" stroke="#111" stroke-width="1.15"/>
<line x1="298.00" y1="308.44" x2="301.2" y2="308.44" stroke="#111" stroke-width="1.15"/>
<text x="294.50" y="310.79" font-size="6.7" text-anchor="end" class="lt">0.40</text>
<line x1="299.00" y1="304.50" x2="301.2" y2="304.50" stroke="#111" stroke-width="1.15"/>
<line x1="299.00" y1="300.57" x2="301.2" y2="300.57" stroke="#111" stroke-width="1.15"/>
<line x1="299.00" y1="296.63" x2="301.2" y2="296.63" stroke="#111" stroke-width="1.15"/>
<line x1="299.00" y1="292.70" x2="301.2" y2="292.70" stroke="#111" stroke-width="1.15"/>
<line x1="298.00" y1="288.76" x2="301.2" y2="288.76" stroke="#111" stroke-width="1.15"/>
<text x="294.50" y="291.11" font-size="6.7" text-anchor="end" class="lt">0.60</text>
<line x1="299.00" y1="284.82" x2="301.2" y2="284.82" stroke="#111" stroke-width="1.15"/>
<line x1="299.00" y1="280.89" x2="301.2" y2="280.89" stroke="#111" stroke-width="1.15"/>
<line x1="299.00" y1="276.95" x2="301.2" y2="276.95" stroke="#111" stroke-width="1.15"/>
<line x1="299.00" y1="273.02" x2="301.2" y2="273.02" stroke="#111" stroke-width="1.15"/>
<line x1="298.00" y1="269.08" x2="301.2" y2="269.08" stroke="#111" stroke-width="1.15"/>
<text x="294.50" y="271.43" font-size="6.7" text-anchor="end" class="lt">0.80</text>
<line x1="299.00" y1="265.14" x2="301.2" y2="265.14" stroke="#111" stroke-width="1.15"/>
<line x1="299.00" y1="261.21" x2="301.2" y2="261.21" stroke="#111" stroke-width="1.15"/>
<line x1="299.00" y1="257.27" x2="301.2" y2="257.27" stroke="#111" stroke-width="1.15"/>
<line x1="299.00" y1="253.34" x2="301.2" y2="253.34" stroke="#111" stroke-width="1.15"/>
<line x1="298.00" y1="249.40" x2="301.2" y2="249.40" stroke="#111" stroke-width="1.15"/>
<text x="294.50" y="251.75" font-size="6.7" text-anchor="end" class="lt">1.00</text>
<line x1="300.7" y1="351.5" x2="468" y2="351.5" stroke="#111" stroke-width="1.35"/>
<line x1="304.50" y1="351.5" x2="304.50" y2="354.7" stroke="#111" stroke-width="1.15"/>
<line x1="310.92" y1="351.5" x2="310.92" y2="354.7" stroke="#111" stroke-width="1.15"/>
<line x1="317.34" y1="351.5" x2="317.34" y2="354.7" stroke="#111" stroke-width="1.15"/>
<line x1="323.76" y1="351.5" x2="323.76" y2="354.7" stroke="#111" stroke-width="1.15"/>
<line x1="330.18" y1="351.5" x2="330.18" y2="354.7" stroke="#111" stroke-width="1.15"/>
<line x1="336.60" y1="351.5" x2="336.60" y2="354.7" stroke="#111" stroke-width="1.15"/>
<line x1="343.02" y1="351.5" x2="343.02" y2="354.7" stroke="#111" stroke-width="1.15"/>
<line x1="349.44" y1="351.5" x2="349.44" y2="354.7" stroke="#111" stroke-width="1.15"/>
<line x1="355.86" y1="351.5" x2="355.86" y2="354.7" stroke="#111" stroke-width="1.15"/>
<line x1="362.28" y1="351.5" x2="362.28" y2="354.7" stroke="#111" stroke-width="1.15"/>
<line x1="368.70" y1="351.5" x2="368.70" y2="354.7" stroke="#111" stroke-width="1.15"/>
<line x1="375.12" y1="351.5" x2="375.12" y2="354.7" stroke="#111" stroke-width="1.15"/>
<line x1="381.54" y1="351.5" x2="381.54" y2="354.7" stroke="#111" stroke-width="1.15"/>
<line x1="387.96" y1="351.5" x2="387.96" y2="354.7" stroke="#111" stroke-width="1.15"/>
<line x1="394.38" y1="351.5" x2="394.38" y2="354.7" stroke="#111" stroke-width="1.15"/>
<line x1="400.80" y1="351.5" x2="400.80" y2="354.7" stroke="#111" stroke-width="1.15"/>
<line x1="407.22" y1="351.5" x2="407.22" y2="354.7" stroke="#111" stroke-width="1.15"/>
<line x1="413.64" y1="351.5" x2="413.64" y2="354.7" stroke="#111" stroke-width="1.15"/>
<line x1="420.06" y1="351.5" x2="420.06" y2="354.7" stroke="#111" stroke-width="1.15"/>
<line x1="426.48" y1="351.5" x2="426.48" y2="354.7" stroke="#111" stroke-width="1.15"/>
<line x1="432.90" y1="351.5" x2="432.90" y2="354.7" stroke="#111" stroke-width="1.15"/>
<line x1="439.32" y1="351.5" x2="439.32" y2="354.7" stroke="#111" stroke-width="1.15"/>
<line x1="445.74" y1="351.5" x2="445.74" y2="354.7" stroke="#111" stroke-width="1.15"/>
<line x1="452.16" y1="351.5" x2="452.16" y2="354.7" stroke="#111" stroke-width="1.15"/>
<line x1="458.58" y1="351.5" x2="458.58" y2="354.7" stroke="#111" stroke-width="1.15"/>
<line x1="465.00" y1="351.5" x2="465.00" y2="354.7" stroke="#111" stroke-width="1.15"/>
<text x="304.50" y="364.10" font-size="6.7" text-anchor="middle" class="lt">0</text>
<text x="336.60" y="364.10" font-size="6.7" text-anchor="middle" class="lt">10</text>
<text x="368.70" y="364.10" font-size="6.7" text-anchor="middle" class="lt">20</text>
<text x="400.80" y="364.10" font-size="6.7" text-anchor="middle" class="lt">30</text>
<text x="432.90" y="364.10" font-size="6.7" text-anchor="middle" class="lt">40</text>
<text x="465.00" y="364.10" font-size="6.7" text-anchor="middle" class="lt">50</text>
<line x1="303.4" y1="298.60" x2="477" y2="298.60" stroke="#333" stroke-width="1" stroke-dasharray="1.1,1.19"/>
<path d="M305.25,249.30 H323.4 V261.68 H337.5 V274.05 H364 V286.43 H366.9 V298.80 H384.75 V311.18 H447" fill="none" stroke="#52769a" stroke-width="1.45"/>
<path d="M305.25,249.30 H306.5 V263.46 H318.4 V277.61 H331.75 V291.77 H339.6 V305.83 H353.2 V319.99 H405.3 V348.30" fill="none" stroke="#c03c5e" stroke-width="1.45"/>
<line x1="395.30" y1="308.98" x2="395.30" y2="311.18" stroke="#1e2a3a" stroke-width="1.3"/>
<line x1="447.00" y1="308.98" x2="447.00" y2="311.18" stroke="#1e2a3a" stroke-width="1.3"/>
<line x1="400.70" y1="317.79" x2="400.70" y2="319.99" stroke="#4a1428" stroke-width="1.3"/>
<text x="415.35" y="347.70" font-size="6.35" text-anchor="start" textLength="58.25" lengthAdjust="spacingAndGlyphs">OS- Overall Survival</text>
<text transform="translate(275.70,297.95) rotate(-90)" x="0" y="0" font-size="8.7" text-anchor="middle" font-weight="bold" style="stroke-width:0.05px" textLength="45.90" lengthAdjust="spacingAndGlyphs">Probability of OS</text>
<text x="375.00" y="376.40" font-size="8.7" text-anchor="start" font-weight="bold" textLength="20.00" lengthAdjust="spacingAndGlyphs">Months</text>
<text x="470.80" y="377.10" font-size="6.4" text-anchor="start" textLength="42.10" lengthAdjust="spacingAndGlyphs">Number at risk</text>
<text x="304.50" y="388.00" font-size="6.4" text-anchor="middle">8</text>
<text x="304.50" y="398.30" font-size="6.4" text-anchor="middle">7</text>
<text x="336.60" y="388.00" font-size="6.4" text-anchor="middle">7</text>
<text x="336.60" y="398.30" font-size="6.4" text-anchor="middle">4</text>
<text x="368.70" y="388.00" font-size="6.4" text-anchor="middle">4</text>
<text x="368.70" y="398.30" font-size="6.4" text-anchor="middle">2</text>
<text x="400.80" y="388.00" font-size="6.4" text-anchor="middle">2</text>
<text x="400.80" y="398.30" font-size="6.4" text-anchor="middle">1</text>
<text x="432.90" y="388.00" font-size="6.4" text-anchor="middle">2</text>
<text x="432.90" y="398.30" font-size="6.4" text-anchor="middle">0</text>
<text x="465.00" y="388.00" font-size="6.4" text-anchor="middle">0</text>
<text x="465.00" y="398.30" font-size="6.4" text-anchor="middle">0</text>
<text x="471.00" y="388.00" font-size="6.4" text-anchor="start">Frontline</text>
<text x="471.00" y="398.30" font-size="6.4" text-anchor="start">Relapsed</text>
<rect x="0" y="0" width="520" height="611" fill="none" stroke="#484848" stroke-width="2.5"/>
</svg>
</body></html>
